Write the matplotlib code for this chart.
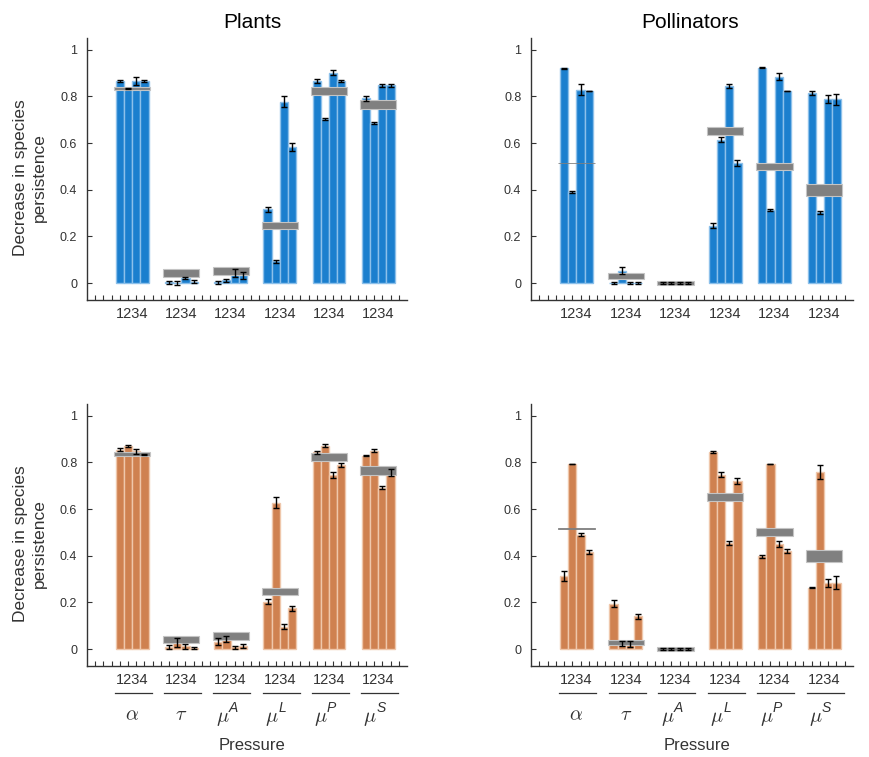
import matplotlib
matplotlib.use("Agg")
import matplotlib.pyplot as plt
import matplotlib.transforms as mtransforms
from matplotlib.patches import Rectangle
import numpy as np

plt.rcParams['font.family'] = ['Liberation Sans', 'DejaVu Sans']
plt.rcParams['mathtext.fontset'] = 'cm'

# ---------------- data ----------------
pressure_symbols = [r'$\alpha$', r'$\tau$', r'$\mu$', r'$\mu$', r'$\mu$', r'$\mu$']
pressure_supers = ['', '', 'A', 'L', 'P', 'S']
scenario_labels = ['1', '2', '3', '4']

# Plants (blue, top-left)
plants_blue = [[0.866, 0.834, 0.866, 0.865],
               [0.004, 0.002, 0.022, 0.006],
               [0.003, 0.013, 0.043, 0.033],
               [0.316, 0.093, 0.778, 0.583],
               [0.866, 0.702, 0.902, 0.866],
               [0.791, 0.685, 0.848, 0.848]]
plants_blue_err = [[0.005, 0.002, 0.018, 0.003],
                   [0.006, 0.008, 0.004, 0.007],
                   [0.005, 0.006, 0.017, 0.016],
                   [0.012, 0.008, 0.022, 0.016],
                   [0.008, 0.004, 0.012, 0.004],
                   [0.009, 0.005, 0.007, 0.007]]
plants_blue_band = [(0.828, 0.842), (0.027, 0.059), (0.037, 0.070),
                    (0.231, 0.261), (0.808, 0.841), (0.748, 0.785)]

# Pollinators (blue, top-right)
poll_blue = [[0.921, 0.391, 0.829, 0.823],
             [0.001, 0.054, 0.001, 0.001],
             [0.000, 0.000, 0.000, 0.000],
             [0.246, 0.614, 0.845, 0.514],
             [0.922, 0.315, 0.885, 0.823],
             [0.815, 0.303, 0.788, 0.787]]
poll_blue_err = [[0.002, 0.003, 0.025, 0.002],
                 [0.005, 0.014, 0.005, 0.005],
                 [0.003, 0.003, 0.003, 0.003],
                 [0.010, 0.010, 0.010, 0.013],
                 [0.002, 0.004, 0.015, 0.002],
                 [0.010, 0.005, 0.016, 0.022]]
poll_blue_band = [(0.514, 0.516), (0.019, 0.042), (-0.009, 0.010),
                  (0.636, 0.668), (0.484, 0.516), (0.373, 0.424)]

# Plants (orange, bottom-left)
plants_orange = [[0.854, 0.871, 0.847, 0.834],
                 [0.011, 0.028, 0.012, 0.005],
                 [0.032, 0.044, 0.008, 0.013],
                 [0.204, 0.628, 0.097, 0.175],
                 [0.843, 0.872, 0.746, 0.789],
                 [0.829, 0.850, 0.692, 0.757]]
plants_orange_err = [[0.007, 0.005, 0.010, 0.002],
                     [0.009, 0.020, 0.010, 0.006],
                     [0.014, 0.014, 0.006, 0.010],
                     [0.009, 0.025, 0.010, 0.010],
                     [0.006, 0.006, 0.012, 0.010],
                     [0.003, 0.007, 0.007, 0.014]]
plants_orange_band = [(0.828, 0.846), (0.027, 0.057), (0.039, 0.072),
                      (0.231, 0.260), (0.805, 0.841), (0.748, 0.785)]

# Pollinators (orange, bottom-right)
poll_orange = [[0.314, 0.793, 0.491, 0.415],
               [0.194, 0.024, 0.022, 0.141],
               [0.000, 0.000, 0.000, 0.000],
               [0.844, 0.748, 0.456, 0.719],
               [0.397, 0.793, 0.450, 0.420],
               [0.264, 0.758, 0.284, 0.284]]
poll_orange_err = [[0.020, 0.002, 0.006, 0.008],
                   [0.015, 0.010, 0.012, 0.010],
                   [0.003, 0.003, 0.003, 0.003],
                   [0.004, 0.010, 0.008, 0.012],
                   [0.007, 0.002, 0.012, 0.010],
                   [0.003, 0.030, 0.016, 0.028]]
poll_orange_band = [(0.515, 0.517), (0.019, 0.040), (-0.009, 0.009),
                    (0.636, 0.667), (0.483, 0.518), (0.372, 0.423)]

yticks = [0, 0.2, 0.4, 0.6, 0.8, 1]
ytick_labels = ['0', '0.2', '0.4', '0.6', '0.8', '1']

BLUE = '#1b7fce'
BLUE_EDGE = '#8cc0ea'
ORANGE = '#cf8150'
ORANGE_EDGE = '#efc7ab'
GRAY = '#808080'
GRAY_EDGE = '#c4c4c4'
TXT = '#333333'

# ---------------- figure ----------------
W, H = 869, 757
fig = plt.figure(figsize=(W / 100, H / 100), dpi=100)

def fx(px):
    return px / W

def fy(py):
    return 1 - py / H

def make_ax(x0, x1, y0, y1):
    return fig.add_axes([fx(x0), fy(y1), fx(x1 - x0), (y1 - y0) / H])

panels = [
    (make_ax(87, 407, 38, 300), plants_blue, plants_blue_err, plants_blue_band, BLUE, BLUE_EDGE, False),
    (make_ax(531, 853, 38, 300), poll_blue, poll_blue_err, poll_blue_band, BLUE, BLUE_EDGE, False),
    (make_ax(87, 407, 404, 666), plants_orange, plants_orange_err, plants_orange_band, ORANGE, ORANGE_EDGE, True),
    (make_ax(531, 853, 404, 666), poll_orange, poll_orange_err, poll_orange_band, ORANGE, ORANGE_EDGE, True),
]

PT = 72 / 100  # points per pixel

for ax, vals, errs, bands, col, ecol, bottom in panels:
    for g in range(len(pressure_symbols)):
        xs = 6 * g + 4 + np.arange(4)
        ax.bar(xs, vals[g], width=1.0, color=col, edgecolor=ecol, linewidth=1.0, zorder=2)
        lo, hi = bands[g]
        if hi - lo < 0.01:
            ax.add_patch(Rectangle((xs[0] - 0.7, lo), 4.4, hi - lo,
                                   facecolor=GRAY, edgecolor=GRAY, linewidth=0.6, zorder=3))
        else:
            ax.add_patch(Rectangle((xs[0] - 0.7, lo), 4.4, hi - lo,
                                   facecolor=GRAY, edgecolor=GRAY_EDGE, linewidth=0.8, zorder=3))
        ax.errorbar(xs, vals[g], yerr=errs[g], fmt='none', ecolor='black',
                    elinewidth=1.0, capsize=2.2, capthick=1.0, zorder=4)
        center = xs.mean()
        ax.annotate(''.join(scenario_labels), xy=(center, 0), xycoords=('data', 'axes fraction'),
                    xytext=(0, -14 * PT), textcoords='offset points', ha='center', va='center',
                    fontsize=10.5, color=TXT)
        if bottom:
            off = mtransforms.offset_copy(ax.get_xaxis_transform(), fig=fig, x=0,
                                          y=-27 * PT, units='points')
            ax.plot([center - 2.1, center + 2.4], [0, 0], transform=off, clip_on=False,
                    color=TXT, linewidth=0.9)
            if pressure_supers[g]:
                ax.annotate(pressure_symbols[g], xy=(center, 0), xycoords=('data', 'axes fraction'),
                            xytext=(-8 * PT, -52 * PT), textcoords='offset points',
                            ha='center', va='center', fontsize=14.5, color=TXT)
                ax.annotate(pressure_supers[g], xy=(center, 0), xycoords=('data', 'axes fraction'),
                            xytext=(2.5 * PT, -42 * PT), textcoords='offset points',
                            ha='center', va='center', fontsize=10, style='italic', color=TXT)
            else:
                ax.annotate(pressure_symbols[g], xy=(center, 0), xycoords=('data', 'axes fraction'),
                            xytext=(0, -49 * PT), textcoords='offset points',
                            ha='center', va='center', fontsize=14.5, color=TXT)
    ax.set_xlim(0, 39)
    ax.set_ylim(-0.072, 1.05)
    ax.set_xticks(np.arange(1, 39))
    ax.set_xticklabels([])
    ax.set_yticks(yticks)
    ax.set_yticklabels(ytick_labels, fontsize=9, color=TXT)
    ax.tick_params(axis='both', direction='in', length=3.5, width=0.8, colors=TXT, labelcolor=TXT)
    ax.tick_params(axis='y', pad=7)
    for s in ['top', 'right']:
        ax.spines[s].set_visible(False)
    for s in ['left', 'bottom']:
        ax.spines[s].set_linewidth(1.0)
        ax.spines[s].set_color(TXT)

fig.text(fx(252), fy(22), 'Plants', ha='center', va='center', fontsize=15, color='black')
fig.text(fx(690), fy(22), 'Pollinators', ha='center', va='center', fontsize=15, color='black')
fig.text(fx(252), fy(745), 'Pressure', ha='center', va='center', fontsize=12, color=TXT)
fig.text(fx(697), fy(745), 'Pressure', ha='center', va='center', fontsize=12, color=TXT)
for yc in [178, 544]:
    fig.text(fx(30), fy(yc), 'Decrease in species\npersistence', ha='center', va='center',
             rotation=90, fontsize=12.5, color=TXT, linespacing=1.3)

fig.savefig('out.png', dpi=100)
